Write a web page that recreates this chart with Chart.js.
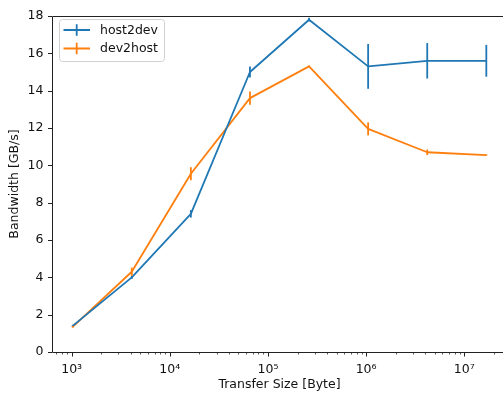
<!DOCTYPE html>
<html>
<head>
<meta charset="utf-8">
<script src="https://cdn.jsdelivr.net/npm/chart.js@4"></script>
<style>
  html, body { margin: 0; padding: 0; background: #fff; overflow: hidden; }
  canvas { display: block; }
</style>
</head>
<body>
<canvas id="bw" width="508" height="398"></canvas>
<script>
(() => {
  "use strict";
  const FONT = "'DejaVu Sans', sans-serif";
  const FS = 12.5;
  const BLUE = "#1f77b4", ORANGE = "#ff7f0e";

  // transfer sizes (bytes) and measured bandwidth with std-dev
  const sizes = [1024, 4096, 16384, 65536, 262144, 1048576, 4194304, 16777216];
  const host2dev = [1.4, 4.0, 7.4, 15.0, 17.8, 15.3, 15.6, 15.6];
  const host2devErr = [0.05, 0.08, 0.2, 0.3, 0.1, 1.2, 0.95, 0.85];
  const dev2host = [1.35, 4.3, 9.55, 13.6, 15.3, 11.95, 10.7, 10.55];
  const dev2hostErr = [0.05, 0.22, 0.35, 0.35, 0.05, 0.35, 0.15, 0.04];
  const yTicks = [0, 2, 4, 6, 8, 10, 12, 14, 16, 18];

  const series = [
    { label: "host2dev", color: BLUE, y: host2dev, err: host2devErr },
    { label: "dev2host", color: ORANGE, y: dev2host, err: dev2hostErr },
  ];

  // 5% margins in log space on the x axis
  const lo = Math.log10(sizes[0]), hi = Math.log10(sizes[sizes.length - 1]);
  const pad = (hi - lo) * 0.05;
  const xMin = Math.pow(10, lo - pad), xMax = Math.pow(10, hi + pad);

  const SUP = { "0": "⁰", "1": "¹", "2": "²", "3": "³", "4": "⁴", "5": "⁵", "6": "⁶", "7": "⁷", "8": "⁸", "9": "⁹", "-": "⁻" };
  const isPow10 = (v) => Math.abs(Math.log10(v) - Math.round(Math.log10(v))) < 1e-9;
  const isNice = (v) => {
    const m = v / Math.pow(10, Math.floor(Math.log10(v) + 1e-9));
    return Math.abs(m - Math.round(m)) < 1e-6;
  };

  // error bars, tick marks and frame
  const decorations = {
    id: "decorations",
    afterDatasetsDraw(chart) {
      const { ctx, chartArea: a, scales: { x, y } } = chart;
      ctx.save();
      ctx.beginPath();
      ctx.rect(a.left, a.top, a.right - a.left, a.bottom - a.top);
      ctx.clip();
      ctx.lineWidth = 1.8;
      series.forEach((s) => {
        ctx.strokeStyle = s.color;
        sizes.forEach((sz, i) => {
          const px = x.getPixelForValue(sz);
          ctx.beginPath();
          ctx.moveTo(px, y.getPixelForValue(s.y[i] - s.err[i]));
          ctx.lineTo(px, y.getPixelForValue(s.y[i] + s.err[i]));
          ctx.stroke();
        });
      });
      ctx.restore();
    },
    afterDraw(chart) {
      const { ctx, chartArea: a, scales: { x, y } } = chart;
      ctx.save();
      ctx.strokeStyle = "#222";
      // spines
      ctx.lineWidth = 1;
      ctx.beginPath();
      ctx.moveTo(a.right + 2, a.top + 0.5);
      ctx.lineTo(a.left + 0.5, a.top + 0.5);
      ctx.lineTo(a.left + 0.5, a.bottom + 0.5);
      ctx.lineTo(a.right + 2, a.bottom + 0.5);
      ctx.stroke();
      // y ticks
      y.ticks.forEach((t) => {
        const py = Math.round(y.getPixelForValue(t.value)) + 0.5;
        ctx.beginPath();
        ctx.moveTo(a.left, py);
        ctx.lineTo(a.left - 4, py);
        ctx.stroke();
      });
      // x ticks, major and minor
      x.ticks.forEach((t) => {
        if (!isNice(t.value) || t.value < xMin || t.value > xMax) return;
        const px = Math.round(x.getPixelForValue(t.value)) + 0.5;
        const major = isPow10(t.value);
        ctx.lineWidth = major ? 1 : 0.75;
        ctx.beginPath();
        ctx.moveTo(px, a.bottom);
        ctx.lineTo(px, a.bottom + (major ? 4.5 : 2.5));
        ctx.stroke();
      });
      // legend
      const bx = 59.5, by = 19.5, bw = 105, bh = 42;
      ctx.fillStyle = "rgba(255,255,255,0.8)";
      ctx.strokeStyle = "#d0d0d0";
      ctx.lineWidth = 1;
      ctx.beginPath();
      ctx.roundRect(bx, by, bw, bh, 3);
      ctx.fill();
      ctx.stroke();
      ctx.font = FS + "px " + FONT;
      ctx.textBaseline = "middle";
      ctx.textAlign = "left";
      series.forEach((s, i) => {
        const ly = 30 + i * 18.5;
        ctx.strokeStyle = s.color;
        ctx.lineWidth = 1.8;
        ctx.beginPath();
        ctx.moveTo(63.5, ly);
        ctx.lineTo(90, ly);
        ctx.moveTo(76.7, ly - 5.7);
        ctx.lineTo(76.7, ly + 5.7);
        ctx.stroke();
        ctx.fillStyle = "#111";
        ctx.fillText(s.label, 100, ly + 0.5);
      });
      ctx.restore();
    },
  };

  new Chart(document.getElementById("bw"), {
    type: "line",
    data: {
      datasets: series.map((s) => ({
        label: s.label,
        data: sizes.map((sz, i) => ({ x: sz, y: s.y[i] })),
        borderColor: s.color,
        backgroundColor: s.color,
        borderWidth: 1.8,
        pointRadius: 0,
        tension: 0,
        borderJoinStyle: "round",
      })),
    },
    options: {
      responsive: false,
      animation: false,
      events: [],
      layout: { padding: { top: 13, right: 1, left: 0, bottom: 0 } },
      plugins: { legend: { display: false }, tooltip: { enabled: false } },
      scales: {
        x: {
          type: "logarithmic",
          min: xMin,
          max: xMax,
          grid: { display: false, drawTicks: false },
          border: { display: false },
          afterFit: (s) => { s.height = 46; s.paddingLeft = 0; s.paddingRight = 0; },
          ticks: {
            autoSkip: false,
            maxRotation: 0,
            padding: 10.5,
            color: "#111",
            font: { family: FONT, size: FS },
            callback: (v) => isPow10(v)
              ? "10" + String(Math.round(Math.log10(v))).split("").map((c) => SUP[c]).join("")
              : "",
          },
          title: {
            display: true,
            text: "Transfer Size [Byte]",
            color: "#111",
            font: { family: FONT, size: FS },
            padding: { top: 0, bottom: 6 },
          },
        },
        y: {
          min: 0,
          max: 18,
          afterBuildTicks: (s) => { s.ticks = yTicks.map((v) => ({ value: v })); },
          grid: { display: false, drawTicks: false },
          border: { display: false },
          afterFit: (s) => { s.width = 52; },
          ticks: {
            padding: 8.5,
            color: "#111",
            font: { family: FONT, size: FS },
          },
          title: {
            display: true,
            text: "Bandwidth [GB/s]",
            color: "#111",
            font: { family: FONT, size: FS },
            padding: { top: 7.5, bottom: 0 },
          },
        },
      },
    },
    plugins: [decorations],
  });
})();
</script>
</body>
</html>
